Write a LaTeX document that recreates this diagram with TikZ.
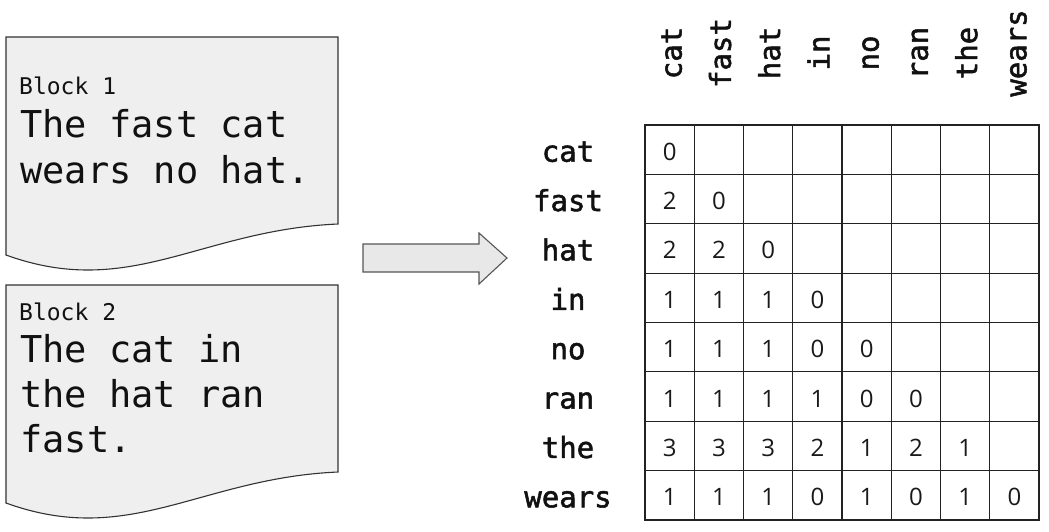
\documentclass[tikz,border=0pt]{standalone}
\usepackage{fontspec}
\newfontfamily\monofont{DejaVu Sans Mono}
\newfontface\labfont[FakeBold=1.8]{DejaVu Sans Mono}
\newfontfamily\numfont{Open Sans}
\definecolor{docfill}{HTML}{EFEFEF}
\definecolor{docline}{HTML}{333333}
\definecolor{arrfill}{HTML}{E8E8E8}
\definecolor{arrline}{HTML}{555555}
\definecolor{gridline}{HTML}{222222}
\definecolor{txt}{HTML}{111111}
\begin{document}
\begin{tikzpicture}[x=1pt,y=-1pt,
  doc/.style={draw=docline,fill=docfill,line width=1.1pt},
  arrowbody/.style={draw=arrline,fill=arrfill,line width=1.1pt,line join=miter},
  small/.style={inner sep=0pt,anchor=base west,text=txt,font=\monofont\fontsize{23}{23}\selectfont},
  big/.style={inner sep=0pt,anchor=base west,text=txt,font=\monofont\fontsize{37}{37}\selectfont},
  cell/.style={draw=gridline,line width=1.2pt,minimum width=49.25pt,minimum height=49.375pt,inner sep=0pt},
  num/.style={inner sep=0pt,text height=21pt,text depth=0pt,text=black!90,font=\numfont\fontsize{24}{24}\selectfont},
  lab/.style={inner sep=0pt,text height=24pt,text depth=0pt,text=txt,font=\labfont\fontsize{29}{29}\selectfont}]
\useasboundingbox (0,0) rectangle (1049,531);
% documents
\draw[doc] (6,37) -- (338,37) -- (338,224) .. controls (200,230) and (130,300) .. (6,255) -- cycle;
\draw[doc] (6,285) -- (338,285) -- (338,472) .. controls (200,478) and (130,548) .. (6,503) -- cycle;
\node[small] (b1t) at (19,94) {Block 1};
\node[big] (b1a) at (20,137) {The fast cat};
\node[big] (b1b) at (20,183) {wears no hat.};
\node[small] (b2t) at (19,320) {Block 2};
\node[big] (b2a) at (20,362) {The cat in};
\node[big] (b2b) at (20,407) {the hat ran};
\node[big] (b2c) at (20,452) {fast.};
% arrow
\draw[arrowbody] (363,244) -- (479,244) -- (479,233) -- (507,258) -- (479,284) -- (479,272) -- (363,272) -- cycle;
% grid
\foreach \i in {1,...,8} {
  \foreach \j in {1,...,8} {
    \node[cell] (c\i-\j) at ({645+49.25*(\j-0.5)},{125+49.375*(\i-0.5)}) {};
  }
}
% labels
\foreach \w [count=\i] in {cat,fast,hat,in,no,ran,the,wears} {
  \node[lab] (r\i) at (568,{125+49.375*(\i-0.5)}) {\w};
  \node[lab,rotate=90] (k\i) at ({645+49.25*(\i-0.5)},53) {\w};
}
% values
\foreach \v [count=\c] in {0} \node[num] (n1-\c) at (c1-\c) {\v};
\foreach \v [count=\c] in {2,0} \node[num] (n2-\c) at (c2-\c) {\v};
\foreach \v [count=\c] in {2,2,0} \node[num] (n3-\c) at (c3-\c) {\v};
\foreach \v [count=\c] in {1,1,1,0} \node[num] (n4-\c) at (c4-\c) {\v};
\foreach \v [count=\c] in {1,1,1,0,0} \node[num] (n5-\c) at (c5-\c) {\v};
\foreach \v [count=\c] in {1,1,1,1,0,0} \node[num] (n6-\c) at (c6-\c) {\v};
\foreach \v [count=\c] in {3,3,3,2,1,2,1} \node[num] (n7-\c) at (c7-\c) {\v};
\foreach \v [count=\c] in {1,1,1,0,1,0,1,0} \node[num] (n8-\c) at (c8-\c) {\v};
\end{tikzpicture}
\end{document}
